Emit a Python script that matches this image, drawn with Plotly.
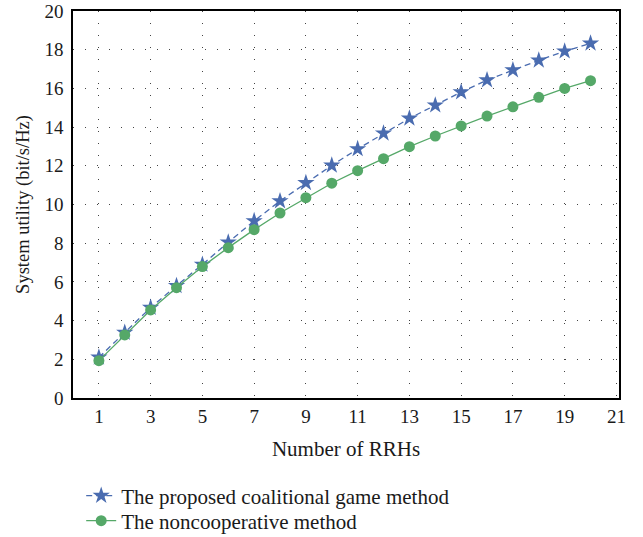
import plotly.graph_objects as go

rrhs = list(range(1, 21))
coalitional = [2.1, 3.38, 4.67, 5.8, 6.9, 8.05, 9.15, 10.18, 11.12, 12.02,
               12.87, 13.68, 14.45, 15.13, 15.81, 16.43, 16.95, 17.45, 17.92, 18.33]
noncoop = [1.93, 3.26, 4.55, 5.7, 6.79, 7.77, 8.7, 9.56, 10.35, 11.1,
           11.75, 12.37, 12.99, 13.54, 14.06, 14.57, 15.05, 15.54, 16.0, 16.4]
x_ticks = list(range(1, 22, 2))
y_ticks = list(range(0, 21, 2))

blue = "#4a6cb0"
green = "#55a868"
font_family = "Liberation Serif, Times New Roman, serif"

fig = go.Figure()
fig.add_trace(go.Scatter(
    x=rrhs, y=coalitional, mode="lines+markers",
    name="The proposed coalitional game method",
    line=dict(color=blue, width=1.3, dash="6px,4px"),
    marker=dict(symbol="star", size=13, color=blue),
    legend="legend",
))
fig.add_trace(go.Scatter(
    x=rrhs, y=noncoop, mode="lines+markers",
    name="The noncooperative method",
    line=dict(color=green, width=1.3),
    marker=dict(symbol="circle", size=11, color=green),
    legend="legend2",
))

grid_dash = "1px,11px"
leg_common = dict(x=0.015, xanchor="left", yanchor="middle",
                  font=dict(size=21), bgcolor="rgba(0,0,0,0)")
fig.update_layout(
    width=643, height=537,
    margin=dict(l=73, r=24, t=11, b=139, autoexpand=False),
    paper_bgcolor="white", plot_bgcolor="white",
    font=dict(family=font_family, size=19, color="#1a1a1a"),
    showlegend=True,
    legend=dict(y=-0.2532, **leg_common),
    legend2=dict(y=-0.3178, **leg_common),
    xaxis=dict(
        range=[0, 21.1], tickvals=x_ticks, ticktext=[str(v) for v in x_ticks],
        showline=True, linecolor="black", linewidth=1.5, mirror=True,
        showgrid=True, gridcolor="#444", griddash=grid_dash, gridwidth=1,
        zeroline=False, ticks="",
        title=dict(text="Number of RRHs", standoff=16, font=dict(size=21)),
    ),
    yaxis=dict(
        range=[0, 20], tickvals=y_ticks, ticktext=[str(v) for v in y_ticks],
        showline=True, linecolor="black", linewidth=1.5, mirror=True,
        showgrid=True, gridcolor="#444", griddash=grid_dash, gridwidth=1,
        zeroline=False, ticks="", ticklabelstandoff=4,
        title=dict(text="System utility (bit/s/Hz)", standoff=10, font=dict(size=18.5)),
    ),
)

fig.write_html("out.html")
